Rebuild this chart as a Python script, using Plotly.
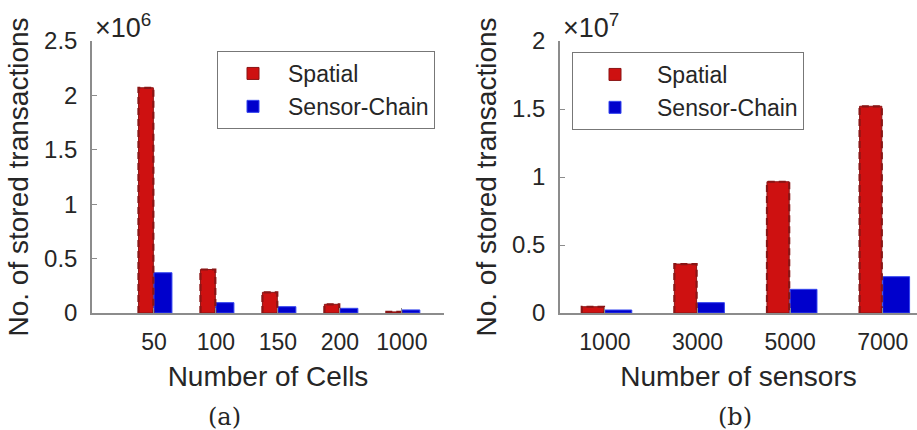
import plotly.graph_objects as go

# ---------------- data ----------------
cells_labels = ["50", "100", "150", "200", "1000"]
cells_spatial = [2.07e6, 0.40e6, 0.19e6, 0.08e6, 0.01e6]
cells_chain = [0.37e6, 0.095e6, 0.058e6, 0.043e6, 0.028e6]

sensors_labels = ["1000", "3000", "5000", "7000"]
sensors_spatial = [0.046e7, 0.36e7, 0.965e7, 1.52e7]
sensors_chain = [0.022e7, 0.076e7, 0.174e7, 0.267e7]

ytick_a_vals = [0, 0.5e6, 1e6, 1.5e6, 2e6, 2.5e6]
ytick_a_text = ["0", "0.5", "1", "1.5", "2", "2.5"]
ytick_b_vals = [0, 0.5e7, 1e7, 1.5e7, 2e7]
ytick_b_text = ["0", "0.5", "1", "1.5", "2"]

# ---------------- style ----------------
RED = "#CE1111"
RED_EDGE = "#8A1515"
BLUE = "#0000CC"
TXT = "#262626"
AXC = "#8C8C8C"
FONT = "Liberation Sans"

RED_OFF, RED_W = -0.25, 0.24
BLUE_OFF, BLUE_W = 0.0, 0.29

W, H = 917, 430

fig = go.Figure()


def outline(xpos, vals, off, w):
    xs, ys = [], []
    for x, v in zip(xpos, vals):
        xs += [x + off, x + off, x + off + w, x + off + w, None]
        ys += [0, v, v, 0, None]
    return xs, ys


def add_panel(labels, spatial, chain, xa, ya, legend):
    pos = list(range(1, len(labels) + 1))
    fig.add_trace(go.Bar(x=pos, y=spatial, name="Spatial", marker=dict(color=RED, line=dict(color=RED_EDGE, width=1)),
                         width=RED_W, offset=RED_OFF, xaxis=xa, yaxis=ya, legend=legend))
    fig.add_trace(go.Bar(x=pos, y=chain, name="Sensor-Chain", marker=dict(color=BLUE, line=dict(color="#3344EE", width=1)),
                         width=BLUE_W, offset=BLUE_OFF, xaxis=xa, yaxis=ya, legend=legend))
    xs, ys = outline(pos, spatial, RED_OFF, RED_W)
    fig.add_trace(go.Scatter(x=xs, y=ys, mode="lines", line=dict(color=RED_EDGE, width=2.2, dash="7px,4px"),
                             showlegend=False, hoverinfo="skip", xaxis=xa, yaxis=ya))


add_panel(cells_labels, cells_spatial, cells_chain, "x", "y", "legend")
add_panel(sensors_labels, sensors_spatial, sensors_chain, "x2", "y2", "legend2")

ydom = [1 - 313 / H, 1 - 41 / H]

axis_common = dict(showgrid=False, zeroline=False, showline=True, linecolor=AXC, linewidth=1.5,
                   ticks="inside", ticklen=5, tickcolor=AXC, automargin=False)
xfont = dict(family=FONT, size=23, color=TXT)
yfont = dict(family=FONT, size=24, color=TXT)
tfont = dict(family=FONT, size=28, color=TXT)

fig.update_layout(
    width=W, height=H, margin=dict(l=0, r=0, t=0, b=0),
    paper_bgcolor="white", plot_bgcolor="white",
    barmode="overlay",
    font=dict(family=FONT, color=TXT),
    xaxis=dict(domain=[92 / W, 444 / W], range=[0, 5.68], tickvals=list(range(1, len(cells_labels) + 1)),
               ticktext=cells_labels, anchor="y", ticklabelstandoff=8, tickfont=xfont,
               title=dict(text="Number of Cells", font=tfont, standoff=12),
               **axis_common),
    yaxis=dict(domain=ydom, range=[0, 2.5e6], tickvals=ytick_a_vals, ticktext=ytick_a_text, anchor="x",
               tickfont=yfont, ticklabelstandoff=8,
               title=dict(text="No. of stored transactions", font=tfont, standoff=7),
               **axis_common),
    xaxis2=dict(domain=[560 / W, 1.0], range=[0.515, 4.37], tickvals=list(range(1, len(sensors_labels) + 1)),
                ticktext=sensors_labels, anchor="y2", ticklabelstandoff=8, tickfont=xfont,
                title=dict(text="Number of sensors", font=tfont, standoff=12),
                **axis_common),
    yaxis2=dict(domain=ydom, range=[0, 2e7], tickvals=ytick_b_vals, ticktext=ytick_b_text, anchor="x2",
                tickfont=yfont, ticklabelstandoff=8,
                title=dict(text="No. of stored transactions", font=tfont, standoff=7),
                **axis_common),
    legend=dict(x=217 / W, y=1 - 51 / H, xanchor="left", yanchor="top", bgcolor="white",
                bordercolor="#777", borderwidth=1, font=dict(family=FONT, size=23, color=TXT),
                tracegroupgap=0, itemwidth=60),
    legend2=dict(x=572 / W, y=1 - 52 / H, xanchor="left", yanchor="top", bgcolor="white",
                 bordercolor="#777", borderwidth=1, font=dict(family=FONT, size=23, color=TXT),
                 tracegroupgap=0, itemwidth=74),
    annotations=[
        dict(text="×10<sup>6</sup>", x=93 / W, y=1 - 45 / H, xref="paper", yref="paper", xanchor="left",
             yanchor="bottom", showarrow=False, font=dict(family=FONT, size=27, color=TXT)),
        dict(text="×10<sup>7</sup>", x=561 / W, y=1 - 45 / H, xref="paper", yref="paper", xanchor="left",
             yanchor="bottom", showarrow=False, font=dict(family=FONT, size=27, color=TXT)),
        dict(text="(a)", x=224 / W, y=1 - 417 / H, xref="paper", yref="paper", xanchor="center",
             yanchor="middle", showarrow=False, font=dict(family="DejaVu Serif", size=24, color=TXT)),
        dict(text="(b)", x=735 / W, y=1 - 417 / H, xref="paper", yref="paper", xanchor="center",
             yanchor="middle", showarrow=False, font=dict(family="DejaVu Serif", size=24, color=TXT)),
    ],
)

fig.write_html("out.html", config={"displayModeBar": False},
               post_script="document.body.style.margin='0';document.body.style.overflow='hidden';")
